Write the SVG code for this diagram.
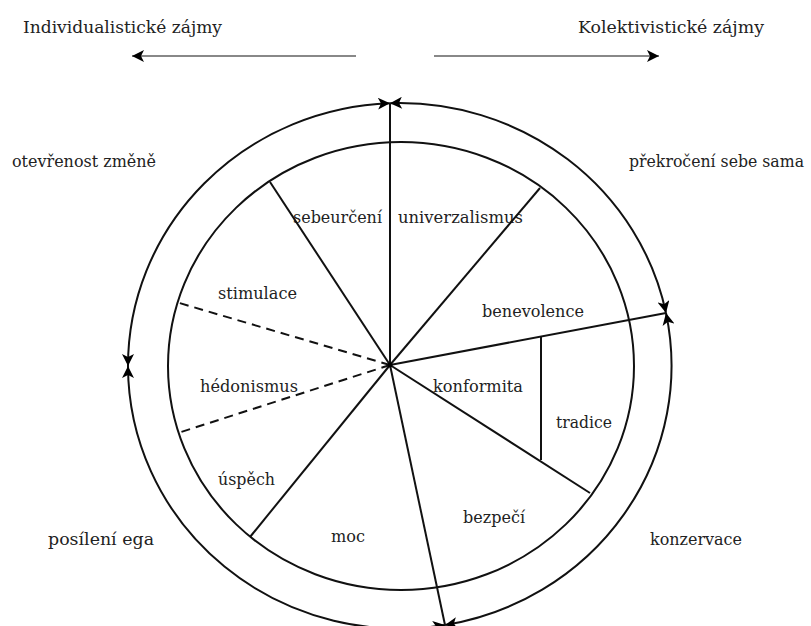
<svg xmlns="http://www.w3.org/2000/svg" width="811" height="626" viewBox="0 0 811 626">
<style>
text{font-family:"DejaVu Serif",serif;font-size:17.4px;fill:#222}
.ln{stroke:#111;stroke-width:2;fill:none}
.dash{stroke:#111;stroke-width:2;fill:none;stroke-dasharray:9 6}
.gray{stroke:#888;stroke-width:2;fill:none}
</style>
<defs>
<marker id="ah" viewBox="0 0 10 10" refX="10" refY="5" markerWidth="13" markerHeight="12" markerUnits="userSpaceOnUse" orient="auto-start-reverse">
<path d="M0,0 L10,5 L0,10 L2.5,5 Z" fill="#000"/>
</marker>
</defs>
<rect width="811" height="626" fill="#fff"/>
<g id="top-labels">
<text x="23" y="33" textLength="199" lengthAdjust="spacingAndGlyphs">Individualistické zájmy</text>
<text x="578" y="33" textLength="186" lengthAdjust="spacingAndGlyphs">Kolektivistické zájmy</text>
</g>
<g id="segment-labels">
<text x="293" y="223" textLength="89" lengthAdjust="spacingAndGlyphs">sebeurčení</text>
<text x="398" y="223" textLength="125" lengthAdjust="spacingAndGlyphs">univerzalismus</text>
<text x="218" y="299" textLength="79" lengthAdjust="spacingAndGlyphs">stimulace</text>
<text x="482" y="317" textLength="102" lengthAdjust="spacingAndGlyphs">benevolence</text>
<text x="200" y="392" textLength="98" lengthAdjust="spacingAndGlyphs">hédonismus</text>
<text x="433" y="392" textLength="90" lengthAdjust="spacingAndGlyphs">konformita</text>
<text x="556" y="428" textLength="56" lengthAdjust="spacingAndGlyphs">tradice</text>
<text x="218" y="485" textLength="57" lengthAdjust="spacingAndGlyphs">úspěch</text>
<text x="463" y="523" textLength="62" lengthAdjust="spacingAndGlyphs">bezpečí</text>
<text x="331" y="542" textLength="34" lengthAdjust="spacingAndGlyphs">moc</text>
</g>
<g id="quadrant-labels">
<text x="12" y="167" textLength="144" lengthAdjust="spacingAndGlyphs">otevřenost změně</text>
<text x="629" y="167" style="font-size:15.8px" textLength="175" lengthAdjust="spacingAndGlyphs">překročení sebe sama</text>
<text x="48" y="545" textLength="106" lengthAdjust="spacingAndGlyphs">posílení ega</text>
<text x="650" y="545" textLength="92" lengthAdjust="spacingAndGlyphs">konzervace</text>
</g>
<g id="connectors">
<line class="gray" x1="356" y1="56" x2="132" y2="56" marker-end="url(#ah)"/>
<line class="gray" x1="434" y1="56" x2="659" y2="56" marker-end="url(#ah)"/>
<ellipse class="ln" cx="401" cy="366" rx="233" ry="224"/>
<path class="ln" d="M128,366 A272,263 0 0 1 390,103.2" marker-start="url(#ah)" marker-end="url(#ah)"/>
<path class="ln" d="M390,103.2 A272,263 0 0 1 666,313" marker-start="url(#ah)" marker-end="url(#ah)"/>
<path class="ln" d="M666,313 A272,263 0 0 1 445,625" marker-start="url(#ah)" marker-end="url(#ah)"/>
<path class="ln" d="M445,625 A272,263 0 0 1 128,366" marker-start="url(#ah)" marker-end="url(#ah)"/>
<line class="ln" x1="390" y1="365" x2="390" y2="103"/>
<line class="ln" x1="390" y1="365" x2="270" y2="182"/>
<line class="ln" x1="390" y1="365" x2="540" y2="188"/>
<line class="ln" x1="390" y1="365" x2="666" y2="313"/>
<line class="ln" x1="390" y1="365" x2="590" y2="493"/>
<line class="ln" x1="390" y1="365" x2="445" y2="625"/>
<line class="ln" x1="390" y1="365" x2="250" y2="537"/>
<line class="dash" x1="390" y1="365" x2="178" y2="433"/>
<line class="dash" x1="390" y1="365" x2="176" y2="302"/>
<line class="ln" x1="541" y1="336.6" x2="541" y2="460"/>
<circle cx="390" cy="365" r="2.5" fill="#000"/>
</g>
</svg>
